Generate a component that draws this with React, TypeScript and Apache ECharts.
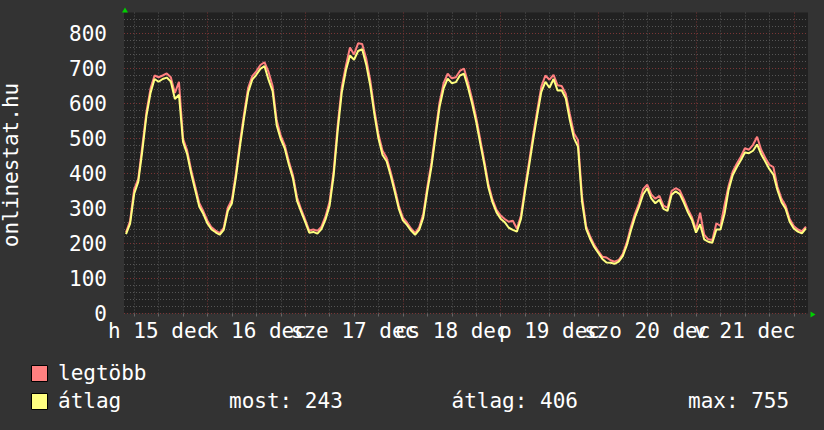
import React, { useEffect, useRef } from 'react';
import * as echarts from 'echarts';

// hourly samples, first sample at 15 Dec 04:00 (hours counted from 15 Dec 00:00)
const firstHour = 4;

const maxValues = [
  232, 265, 355, 385, 478, 575, 642, 680, 675, 680, 686, 675,
  630, 662, 500, 466, 410, 362, 315, 292, 265, 246, 237, 230,
  245, 302, 325, 402, 490, 572, 645, 678, 692, 710, 718, 690,
  650, 552, 508, 480, 434, 395, 332, 298, 268, 237, 240, 236,
  248, 278, 320, 408, 540, 648, 708, 760, 740, 772, 770, 728,
  665, 582, 512, 465, 445, 404, 358, 308, 274, 260, 243, 230,
  246, 284, 362, 430, 518, 603, 658, 685, 672, 675, 693, 700,
  660, 612, 560, 497, 436, 370, 326, 296, 280, 270, 262, 265,
  242, 280, 360, 434, 510, 580, 648, 680, 668, 682, 652, 650,
  628, 570, 515, 496, 335, 250, 220, 196, 178, 162, 160, 152,
  148, 153, 170, 203, 248, 285, 315, 355, 368, 340, 328, 336,
  308, 302, 350, 358, 352, 327, 298, 275, 240, 288, 225, 212,
  210, 258, 250, 310, 365, 405, 428, 448, 472, 468, 482, 505,
  468, 445, 425, 418, 362, 328, 308, 270, 250, 240, 235, 248,
];

const avgValues = [
  227, 257, 342, 376, 465, 564, 629, 670, 662, 670, 674, 663,
  613, 625, 490, 456, 400, 352, 305, 284, 257, 240, 232, 225,
  239, 293, 315, 390, 479, 560, 632, 668, 682, 699, 707, 668,
  635, 538, 498, 471, 425, 386, 322, 291, 262, 231, 233, 228,
  241, 269, 308, 395, 524, 633, 694, 737, 725, 750, 755, 711,
  650, 569, 500, 453, 435, 394, 348, 299, 266, 253, 237, 225,
  239, 274, 350, 418, 505, 590, 643, 671, 658, 661, 680, 685,
  646, 600, 548, 486, 426, 360, 318, 289, 271, 261, 245, 239,
  234, 270, 348, 422, 497, 567, 633, 662, 645, 670, 637, 638,
  615, 553, 502, 477, 320, 242, 213, 190, 173, 156, 146, 145,
  142, 148, 164, 195, 237, 275, 305, 340, 358, 329, 315, 325,
  299, 293, 339, 349, 341, 317, 289, 267, 231, 255, 212, 205,
  202, 240, 240, 285, 353, 395, 418, 438, 460, 458, 465, 483,
  455, 434, 413, 397, 352, 318, 299, 262, 243, 234, 229, 243,
];

const dayLabels = ['h 15 dec', 'k 16 dec', 'sze 17 dec', 'cs 18 dec', 'p 19 dec', 'szo 20 dec', 'v 21 dec'];
const dayNoons = [12, 36, 60, 84, 108, 132, 156];
const gridHours = [
  6, 12, 18, 24, 30, 36, 42, 48, 54, 60, 66, 72, 78, 84,
  90, 96, 102, 108, 114, 120, 126, 132, 138, 144, 150, 156, 162, 168,
];
const seriesNames = ['legtöbb', 'átlag'];
const seriesColors = ['#ff8080', '#ffff80'];
const statNow = 243;
const statAvg = 406;
const statMax = 755;
const axisTitle = 'onlinestat.hu';

const FONT = 'DejaVu Sans Mono';
const GREY = '#555555';
const RED = '#7a3535';

export default function App() {
  const ref = useRef<HTMLDivElement>(null);
  useEffect(() => {
    const chart = echarts.init(ref.current as HTMLDivElement, null, { renderer: 'svg' });
    const toPairs = (vals: number[]) => vals.map((v, i) => [firstHour + i, v]);
    const textBase = { fill: '#ffffff', fontFamily: FONT, fontSize: 21 };
    chart.setOption({
      animation: false,
      backgroundColor: '#333333',
      textStyle: { fontFamily: FONT },
      grid: {
        left: 124, top: 12.5, width: 684, height: 301,
        show: true, backgroundColor: '#212121', borderWidth: 0,
        containLabel: false, outerBoundsMode: 'none',
      },
      xAxis: {
        type: 'value', min: 3.5, max: 171.5,
        axisLine: { show: false },
        axisTick: { show: true, customValues: gridHours, length: 3, lineStyle: { color: '#666666' } },
        axisLabel: { show: false },
        splitLine: {
          show: true,
          lineStyle: { color: [GREY, GREY, GREY, RED], type: [1, 2], width: 1 },
        },
      },
      yAxis: {
        type: 'value', min: 0, max: 860, interval: 20,
        axisLine: { show: false },
        axisTick: { show: false },
        axisLabel: {
          formatter: (v: number) => (v % 100 === 0 ? String(v) : ''),
          color: '#ffffff', fontSize: 21, fontFamily: FONT, margin: 17,
        },
        splitLine: {
          show: true, showMaxLine: false,
          lineStyle: { color: [RED, GREY, GREY, GREY, GREY], type: [1, 2], width: 1 },
        },
      },
      series: [
        {
          name: seriesNames[0], type: 'line', data: toPairs(maxValues),
          showSymbol: false, symbol: 'none', silent: true,
          lineStyle: { color: seriesColors[0], width: 2 }, z: 2,
        },
        {
          name: seriesNames[1], type: 'line', data: toPairs(avgValues),
          showSymbol: false, symbol: 'none', silent: true,
          lineStyle: { color: seriesColors[1], width: 2 }, z: 3,
        },
      ],
    });

    // day labels placed through the x axis scale
    const axisBottom = chart.convertToPixel({ yAxisIndex: 0 }, 0) as number;
    const dayTexts = dayNoons.map((h, k) => ({
      type: 'text',
      x: chart.convertToPixel({ xAxisIndex: 0 }, h) as number,
      y: axisBottom + 17,
      style: { ...textBase, text: dayLabels[k], align: 'center', verticalAlign: 'middle' },
      z: 5,
    }));

    chart.setOption({
      graphic: [
        {
          type: 'text', x: 11, y: 165, rotation: Math.PI / 2,
          style: { ...textBase, text: axisTitle, align: 'center', verticalAlign: 'middle' },
        },
        ...dayTexts,
        { type: 'polygon', shape: { points: [[122, 12.5], [128, 12.5], [125, 7.5]] }, style: { fill: '#00d000' }, z: 10 },
        { type: 'polygon', shape: { points: [[810.5, 311.5], [810.5, 317.5], [815.5, 314.5]] }, style: { fill: '#00d000' }, z: 10 },
        { type: 'rect', shape: { x: 31.5, y: 365.5, width: 16, height: 16 }, style: { fill: seriesColors[0], stroke: '#000000', lineWidth: 1 } },
        { type: 'rect', shape: { x: 31.5, y: 393.5, width: 16, height: 16 }, style: { fill: seriesColors[1], stroke: '#000000', lineWidth: 1 } },
        { type: 'text', x: 58, y: 373, style: { ...textBase, text: seriesNames[0], verticalAlign: 'middle' } },
        { type: 'text', x: 58, y: 401, style: { ...textBase, text: seriesNames[1], verticalAlign: 'middle' } },
        { type: 'text', x: 229, y: 401, style: { ...textBase, text: `most: ${statNow}`, verticalAlign: 'middle' } },
        { type: 'text', x: 451.5, y: 401, style: { ...textBase, text: `átlag: ${statAvg}`, verticalAlign: 'middle' } },
        { type: 'text', x: 688, y: 401, style: { ...textBase, text: `max: ${statMax}`, verticalAlign: 'middle' } },
      ],
    });
    return () => chart.dispose();
  }, []);
  return <div ref={ref} style={{ position: 'absolute', left: 0, top: 0, width: 824, height: 430 }} />;
}
